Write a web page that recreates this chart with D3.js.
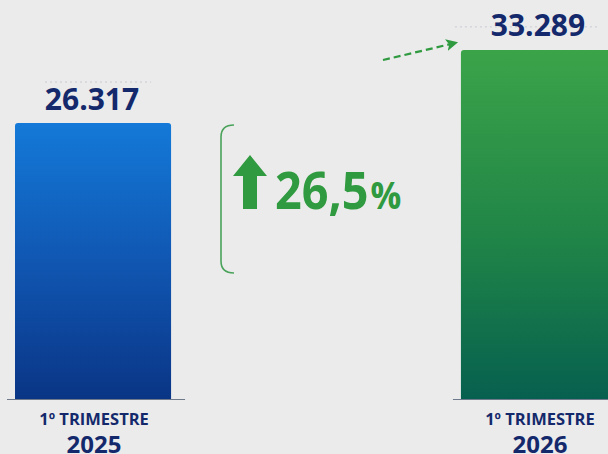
<!DOCTYPE html>
<html>
<head>
<meta charset="utf-8">
<script src="https://cdn.jsdelivr.net/npm/d3@7"></script>
<style>
	html, body { margin: 0; padding: 0; background: #ebebeb; overflow: hidden; }
	text { font-family: "Open Sans", "Noto Sans", sans-serif; font-weight: 700; }
</style>
</head>
<body>
<div id="chart"></div>
<script>
// Data

var categories = ['2025', '2026'];
var periodLabels = ['1º TRIMESTRE', '1º TRIMESTRE'];
var values = [26317, 33289];
var valueLabels = ['26.317', '33.289'];
var growthLabel = '26,5%';

// Config

var width = 608;
var height = 454;
var baseY = 399;
var navy = '#14296b';
var green = '#2f9a3f';
var ruleOffset = [41, 23]; // faint dotted rule above each value

var svg = d3.select('#chart').append('svg')
	.attr('width', width)
	.attr('height', height);

var defs = svg.append('defs');

function addGradient(id, stops) {
	var g = defs.append('linearGradient').attr('id', id)
		.attr('x1', 0).attr('y1', 0).attr('x2', 0).attr('y2', 1);
	stops.forEach(s => g.append('stop').attr('offset', s[0]).attr('stop-color', s[1]));
}
addGradient('grad-0', [['0%', '#1479d8'], ['60%', '#0f50aa'], ['100%', '#0a3585']]);
addGradient('grad-1', [['0%', '#3ba449'], ['55%', '#1f8447'], ['100%', '#07604f']]);

var marker = defs.append('marker').attr('id', 'arrowhead')
	.attr('viewBox', '0 0 10 10').attr('refX', 4).attr('refY', 5)
	.attr('markerWidth', 5.5).attr('markerHeight', 5.5)
	.attr('markerUnits', 'strokeWidth')
	.attr('orient', 'auto');
marker.append('path').attr('d', 'M0,0 L10,5 L0,10 L2.5,5 Z').attr('fill', green);

// Scales

var x = d3.scaleBand()
	.domain(categories)
	.range([15, 617])
	.paddingInner(0.65)
	.paddingOuter(0);

var y = d3.scaleLinear()
	.domain([0, 35000])
	.range([baseY, baseY - 35000 * 276 / 26317]);

var data = categories.map((c, i) => ({ cat: c, value: values[i], label: valueLabels[i], period: periodLabels[i], i: i }));

// Baselines
svg.selectAll('.baseline')
	.data(data)
	.enter().append('line')
	.attr('class', 'baseline')
	.attr('x1', d => x(d.cat) - 8)
	.attr('x2', d => x(d.cat) + x.bandwidth() + 14)
	.attr('y1', baseY + 0.5)
	.attr('y2', baseY + 0.5)
	.attr('stroke', '#6e7a8c')
	.attr('stroke-width', 1.2);

// Bars (rounded top corners only)
function barPath(d) {
	var x0 = x(d.cat), x1 = x0 + x.bandwidth();
	var y0 = y(d.value), r = 3;
	return `M${x0},${baseY} L${x0},${y0 + r} Q${x0},${y0} ${x0 + r},${y0} L${x1 - r},${y0} Q${x1},${y0} ${x1},${y0 + r} L${x1},${baseY} Z`;
}

svg.selectAll('.bar')
	.data(data)
	.enter().append('path')
	.attr('class', 'bar')
	.attr('d', barPath)
	.attr('fill', d => `url(#grad-${d.i})`);

// Faint dotted rule above values
svg.selectAll('.dots')
	.data(data)
	.enter().append('line')
	.attr('x1', d => x(d.cat) + 30 - d.i * 36)
	.attr('x2', d => x(d.cat) + x.bandwidth() - 20)
	.attr('y1', d => y(d.value) - ruleOffset[d.i])
	.attr('y2', d => y(d.value) - ruleOffset[d.i])
	.attr('stroke', '#c6cad2')
	.attr('stroke-width', 1)
	.attr('stroke-dasharray', '2,3');

// Value labels
svg.selectAll('.value')
	.data(data)
	.enter().append('text')
	.attr('x', d => x(d.cat) + x.bandwidth() / 2 - 1)
	.attr('y', d => y(d.value) - 13 - d.i)
	.attr('text-anchor', 'middle')
	.attr('fill', navy)
	.attr('font-size', 30)
	.text(d => d.label);

// Category labels
svg.selectAll('.period')
	.data(data)
	.enter().append('text')
	.attr('x', d => x(d.cat) + x.bandwidth() / 2 + 1)
	.attr('y', 425)
	.attr('text-anchor', 'middle')
	.attr('fill', navy)
	.attr('font-size', 16.5)
	.text(d => d.period);

svg.selectAll('.year')
	.data(data)
	.enter().append('text')
	.attr('x', d => x(d.cat) + x.bandwidth() / 2 + 1)
	.attr('y', 453)
	.attr('text-anchor', 'middle')
	.attr('fill', navy)
	.attr('font-size', 24)
	.text(d => d.cat);

// Growth annotation
var brTop = y(values[0]) + 2;
var brBot = brTop + 148;
svg.append('path')
	.attr('d', `M234,${brTop} Q221,${brTop} 221,${brTop + 12} L221,${brBot - 12} Q221,${brBot} 234,${brBot}`)
	.attr('fill', 'none')
	.attr('stroke', '#4aa35a')
	.attr('stroke-width', 1.6);

svg.append('path')
	.attr('d', 'M250,155 L267,176 L257,176 L257,209 L243,209 L243,176 L233,176 Z')
	.attr('fill', green);

svg.append('g')
	.attr('transform', 'translate(275,209) scale(0.9,1)')
	.append('text')
	.attr('fill', green)
	.attr('font-size', 52)
	.text(growthLabel.replace('%', ''))
	.append('tspan')
	.attr('font-size', 38)
	.attr('dx', 2)
	.text('%');

// Dashed arrow toward the taller bar
svg.append('line')
	.attr('x1', 383).attr('y1', 60)
	.attr('x2', 451).attr('y2', 44)
	.attr('stroke', green)
	.attr('stroke-width', 2.2)
	.attr('stroke-dasharray', '7,4')
	.attr('marker-end', 'url(#arrowhead)');
</script>
</body>
</html>
